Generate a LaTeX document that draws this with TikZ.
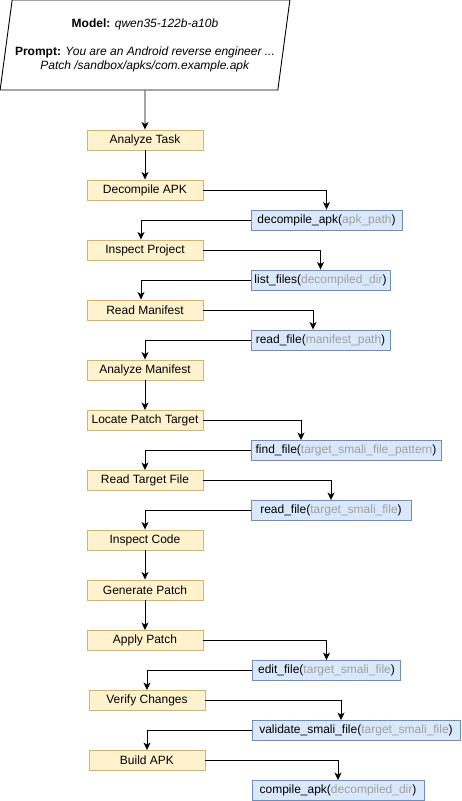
\documentclass[tikz,border=0pt]{standalone}
\usepackage{fontspec}
\setmainfont{Liberation Sans}
\usepackage{xcolor}
\usepackage{tikz}
\usetikzlibrary{shapes.geometric,arrows.meta}
\definecolor{stagefill}{HTML}{FFF2CC}
\definecolor{stageline}{HTML}{D6B656}
\definecolor{callfill}{HTML}{DAE8FC}
\definecolor{callline}{HTML}{6C8EBF}
\definecolor{argtext}{HTML}{A0A0A0}
\newcommand{\toolcall}[2]{#1(\textcolor{argtext}{#2})}

\begin{document}
\begin{tikzpicture}[x=1pt,y=-1pt,
  every node/.style={font=\fontsize{12}{14}\selectfont, inner sep=0pt},
  stage/.style={draw=stageline, fill=stagefill, line width=0.9pt,
    minimum width=116pt, minimum height=20pt},
  call/.style={draw=callline, fill=callfill, line width=0.9pt,
    minimum height=20pt},
  flow/.style={-{Stealth[length=7.5pt,width=7pt,inset=2pt]}, line width=0.9pt}]
  \useasboundingbox (0,0) rectangle (461,801);

  % prompt
  \node[trapezium, trapezium left angle=77.5, trapezium right angle=102.5,
    trapezium stretches=true, draw, line width=0.9pt, fill=white,
    minimum width=290pt, minimum height=90pt, align=center] (prompt) at (145,45)
    {\textbf{Model:} \textit{qwen35-122b-a10b}\\[14pt]
     \textbf{Prompt:} \textit{You are an Android reverse engineer ...}\\
     \textit{Patch /sandbox/apks/com.example.apk}};

  % agent steps
  \node[stage] (analyze)   at (145,140)   {Analyze Task};
  \node[stage] (decomp)    at (145,190)   {Decompile APK};
  \node[stage] (inspproj)  at (145,250)   {Inspect Project};
  \node[stage] (readman)   at (145,310)   {Read Manifest};
  \node[stage] (anaman)    at (145,370)   {Analyze Manifest};
  \node[stage] (locate)    at (145,420.5) {Locate Patch Target};
  \node[stage] (readtgt)   at (145,480.5) {Read Target File};
  \node[stage] (inspcode)  at (145,540)   {Inspect Code};
  \node[stage] (genpatch)  at (145,590)   {Generate Patch};
  \node[stage] (apply)     at (145,640.5) {Apply Patch};
  \node[stage] (verify)    at (147,700.5) {Verify Changes};
  \node[stage] (build)     at (147,760.5) {Build APK};

  % tool calls
  \node[call, minimum width=151pt] (tdecomp)  at (326.5,220)   {\toolcall{decompile\_apk}{apk\_path}};
  \node[call, minimum width=139pt] (tlist)    at (320.5,280)   {\toolcall{list\_files}{decompiled\_dir}};
  \node[call, minimum width=139pt] (tread)    at (320.5,340)   {\toolcall{read\_file}{manifest\_path}};
  \node[call, minimum width=190pt] (tfind)    at (346,450.5)   {\toolcall{find\_file}{target\_smali\_file\_pattern}};
  \node[call, minimum width=160pt] (treadtgt) at (331,510.5)   {\toolcall{read\_file}{target\_smali\_file}};
  \node[call, minimum width=148pt] (tedit)    at (326.5,670.5) {\toolcall{edit\_file}{target\_smali\_file}};
  \node[call, minimum width=208pt] (tvalid)   at (356,730.5)   {\toolcall{validate\_smali\_file}{target\_smali\_file}};
  \node[call, minimum width=172pt] (tcompile) at (338,790.5)   {\toolcall{compile\_apk}{decompiled\_dir}};

  % connectors
  \draw[flow] (prompt.south) -- (analyze);
  \draw[flow] (analyze) -- (decomp);
  \draw[flow] (decomp.east) -| (tdecomp.north);
  \draw[flow] (tdecomp.west) -| ([xshift=-4pt]inspproj.north);
  \draw[flow] (inspproj.east) -| (tlist.north);
  \draw[flow] (tlist.west) -| ([xshift=-4pt]readman.north);
  \draw[flow] (readman.east) -| ([xshift=-7.5pt]tread.north);
  \draw[flow] (tread.west) -| (anaman.north);
  \draw[flow] (anaman) -- (locate);
  \draw[flow] (locate.east) -| ([xshift=-45pt]tfind.north);
  \draw[flow] (tfind.west) -| (readtgt.north);
  \draw[flow] (readtgt.east) -| (treadtgt.north);
  \draw[flow] (treadtgt.west) -| (inspcode.north);
  \draw[flow] (inspcode) -- (genpatch);
  \draw[flow] (genpatch) -- (apply);
  \draw[flow] (apply.east) -| (tedit.north);
  \draw[flow] (tedit.west) -| (verify.north);
  \draw[flow] (verify.east) -| ([xshift=-15pt]tvalid.north);
  \draw[flow] (tvalid.west) -| (build.north);
  \draw[flow] (build.east) -| (tcompile.north);
\end{tikzpicture}
\end{document}
